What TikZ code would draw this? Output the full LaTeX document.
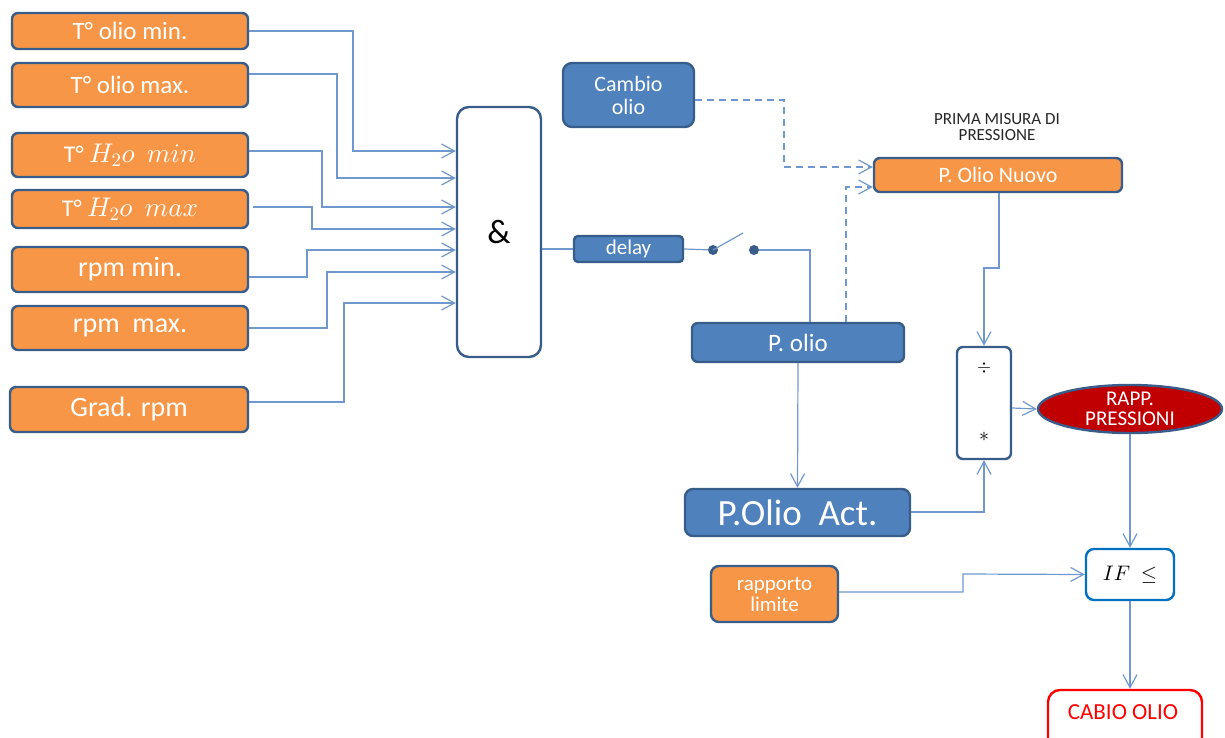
\documentclass[tikz,border=0pt]{standalone}
\usepackage{fontspec}
\setmainfont{Carlito}
% scalable math fonts so large formulas are not capped at 24.88pt
\DeclareFontFamily{OML}{cmm}{\skewchar\font127 }
\DeclareFontShape{OML}{cmm}{m}{it}{<->cmmi10}{}
\DeclareFontFamily{OMS}{cmsy}{\skewchar\font48 }
\DeclareFontShape{OMS}{cmsy}{m}{n}{<->cmsy10}{}
\DeclareFontFamily{OT1}{cmr}{\hyphenchar\font45 }
\DeclareFontShape{OT1}{cmr}{m}{n}{<->cmr10}{}
\usetikzlibrary{arrows.meta,shapes.geometric}
\definecolor{orng}{HTML}{F79646}
\definecolor{bord}{HTML}{385D8A}
\definecolor{blu}{HTML}{4F81BD}
\definecolor{lnk}{RGB}{112,152,206}
\definecolor{redfill}{HTML}{C00000}
\definecolor{ifblue}{HTML}{0070C0}
\definecolor{alarm}{HTML}{FF0000}
\newcommand{\bigmath}[1]{{\fontsize{27}{27}\selectfont$#1$}}
\begin{document}
\begin{tikzpicture}[x=1pt,y=-1pt,
  box/.style={draw=bord, line width=2.4pt, rounded corners=6pt, inner sep=0pt,
    text=white, align=center},
  obox/.style={box, fill=orng},
  bbox/.style={box, fill=blu},
  wbox/.style={box, fill=white, text=black},
  fs/.style={font=\fontsize{#1}{#1}\selectfont},
  fsl/.style args={#1/#2}{font=\fontsize{#1}{#2}\selectfont},
  conn/.style={draw=lnk, line width=1.2pt},
  arr/.style={conn, -{Straight Barb[length=13pt,width=14pt,line width=1.2pt]}},
  dconn/.style={dash pattern=on 7pt off 5pt},
  dot/.style={circle, fill=bord, inner sep=0pt, minimum width=10pt, minimum height=8pt}
]
\useasboundingbox (0,0) rectangle (1225,738);
\clip (0,0) rectangle (1225,738);

% ---- input conditions ----
\node[obox, fs=25, minimum width=236pt, minimum height=36pt] (omin) at (130,31) {T° olio min.};
\node[obox, fs=25, minimum width=236pt, minimum height=44pt] (omax) at (130,85) {T° olio max.};
\node[obox, fs=24, minimum width=236pt, minimum height=44pt] (hmin) at (130,155) {T° \bigmath{H_2o\ \ min}};
\node[obox, fs=24, minimum width=236pt, minimum height=38pt] (hmax) at (130,209) {T° \bigmath{H_2o\ \ max}};
\node[obox, fs=28, minimum width=236pt, minimum height=45pt] (rmin) at (130,269.5) {rpm min.};
\node[obox, fs=28, minimum width=236pt, minimum height=44pt] (rmax) at (130,328) {rpm\ \ max.};
\node[obox, fs=28, minimum width=238pt, minimum height=45pt] (grad) at (129,409.5) {Grad. rpm};

% ---- AND block ----
\node[wbox, rounded corners=12pt, fs=34, minimum width=84pt, minimum height=250pt] (and) at (499,232) {\&};

% ---- delay, switch, change request ----
\node[bbox, fs=21, rounded corners=4pt, minimum width=109pt, minimum height=26pt] (delay) at (628.5,249) {delay};
\node[dot] (s1) at (713,250) {};
\node[dot] (s2) at (754,250) {};
\coordinate (lever) at (743,233);
\node[bbox, fsl=22/23, rounded corners=9pt, minimum width=131pt, minimum height=64pt] (cambio) at (628.5,95) {Cambio\\olio};

% ---- pressure blocks ----
\node[bbox, fs=25, minimum width=212pt, minimum height=39pt] (polio) at (798,342.5) {P. olio};
\node[obox, fs=22, minimum width=248pt, minimum height=34pt] (nuovo) at (998,175) {P. Olio Nuovo};
\node[align=center, inner sep=0pt, text=black!85, fsl=17/16] (title) at (997,127) {PRIMA MISURA DI\\PRESSIONE};
\node[bbox, fs=37, rounded corners=8pt, minimum width=225pt, minimum height=47pt] (act) at (797.5,512.5) {P.Olio\ \ Act.};
\node[wbox, rounded corners=6pt, minimum width=54pt, minimum height=112pt] (ops) at (984,403) {};
\node[font=\fontsize{18}{18}\selectfont, inner sep=0pt] (divs) at (984,368) {$\div$};
\node[font=\fontsize{20}{20}\selectfont, inner sep=0pt] (mult) at (984,437) {$\ast$};
\node[ellipse, draw=bord, line width=2.4pt, fill=redfill, text=white, align=center,
  inner sep=0pt, minimum width=184pt, minimum height=48pt, fsl=21/20] (rapp) at (1130,409) {RAPP.\\PRESSIONI};

% ---- comparison and result ----
\node[obox, fsl=21/21, rounded corners=8pt, minimum width=127pt, minimum height=56pt] (limite) at (774.5,594) {rapporto\\limite};
\node[box, draw=ifblue, fill=white, text=black, rounded corners=8pt, fs=21,
  minimum width=88pt, minimum height=51pt] (ifbox) at (1130,574.5) {$IF\ \leq$};
\node[box, draw=alarm, fill=white, text=alarm, rounded corners=12pt, fs=22,
  minimum width=154pt, minimum height=64pt] (cabio) at (1125,722) {};
\node[text=alarm, fs=23, inner sep=0pt] (cabiot) at (1123,712) {CABIO OLIO};

% ---- connectors into the AND block ----
\draw[arr] (omin.east) -| (353,151) -- (and.west |- 0,151);
\draw[arr] (omax.east |- 0,74) -| (337,178) -- (and.west |- 0,178);
\draw[arr] (hmin.east |- 0,151) -| (322,207) -- (and.west |- 0,207);
\draw[arr] (253,207) -| (312,229) -- (and.west |- 0,229);
\draw[arr] (rmin.east |- 0,277) -| (307,250) -- (and.west |- 0,250);
\draw[arr] (rmax.east |- 0,328) -| (327,272) -- (and.west |- 0,272);
\draw[arr] (grad.east |- 0,402) -| (344,303) -- (and.west |- 0,303);

% ---- AND -> delay -> switch -> P. olio ----
\draw[conn] (and.east |- delay.west) -- (delay.west);
\draw[conn] (delay.east) -- (s1);
\draw[conn] (s1.center) -- (lever);
\draw[conn] (s2) -| (polio.north -| 810,0);

% ---- dashed trigger lines ----
\draw[arr, dconn] (cambio.east |- 0,100) -| (784,167) -- (nuovo.west |- 0,167);
\draw[arr, dconn] (polio.north -| 846,0) |- (nuovo.west |- 0,187);

% ---- ratio computation ----
\draw[arr] (nuovo.south -| 999,0) |- (984,268) -- (ops.north);
\draw[arr] (polio.south) -- (act.north);
\draw[arr] (act.east |- 0,512) -| (ops.south);
\draw[arr] (ops.east |- 0,408) -- (rapp.west);
\draw[arr] (rapp.south) -- (ifbox.north);
\draw[arr] (limite.east |- 0,592) -| (963,574) -- (ifbox.west);
\draw[arr] (ifbox.south) -- (cabio.north -| ifbox.south);
\end{tikzpicture}
\end{document}
